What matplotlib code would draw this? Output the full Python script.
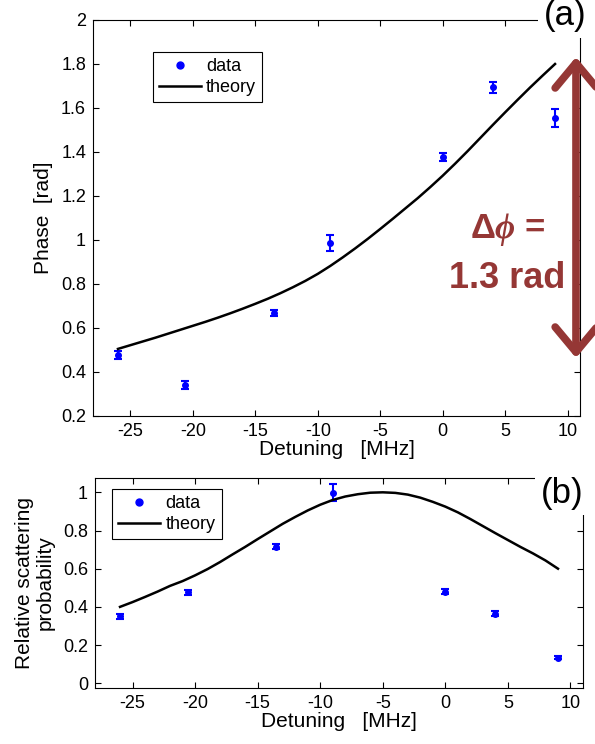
import matplotlib

matplotlib.use("Agg")
import matplotlib.pyplot as plt
from matplotlib.lines import Line2D
from matplotlib.patches import FancyArrowPatch

plt.rcParams["font.family"] = ["Liberation Sans", "DejaVu Sans"]
plt.rcParams["axes.unicode_minus"] = False
plt.rcParams["mathtext.fontset"] = "custom"
plt.rcParams["mathtext.it"] = "Liberation Serif:bold:italic"
plt.rcParams["mathtext.rm"] = "Liberation Sans:bold"

# measured points (detuning in MHz)
det = [-26, -20.6, -13.5, -9, 0, 4, 9]
phase = [0.477, 0.341, 0.668, 0.986, 1.377, 1.695, 1.555]
phase_err = [0.018, 0.017, 0.015, 0.035, 0.018, 0.025, 0.04]
scat = [0.35, 0.476, 0.716, 0.998, 0.48, 0.363, 0.133]
scat_err = [0.013, 0.014, 0.014, 0.045, 0.013, 0.013, 0.008]

# theory curves, 1 MHz steps
det_th = list(range(-26, 10))
phase_th = [0.505, 0.522, 0.539, 0.556, 0.574, 0.592, 0.610, 0.628, 0.647, 0.667,
            0.688, 0.710, 0.733, 0.758, 0.785, 0.814, 0.846, 0.882, 0.921, 0.962,
            1.005, 1.050, 1.096, 1.143, 1.190, 1.240, 1.292, 1.347, 1.404, 1.463,
            1.522, 1.580, 1.637, 1.693, 1.747, 1.800]
scat_th = [0.40, 0.425, 0.452, 0.48, 0.51, 0.535, 0.565, 0.598, 0.635, 0.675,
           0.714, 0.755, 0.795, 0.835, 0.871, 0.905, 0.935, 0.96, 0.978, 0.99,
           0.998, 1.0, 0.997, 0.988, 0.972, 0.95, 0.925, 0.895, 0.86, 0.823,
           0.786, 0.75, 0.714, 0.68, 0.643, 0.60]

phase_ticks = [0.2, 0.4, 0.6, 0.8, 1.0, 1.2, 1.4, 1.6, 1.8, 2.0]
phase_labels = ["0.2", "0.4", "0.6", "0.8", "1", "1.2", "1.4", "1.6", "1.8", "2"]
scat_ticks = [0, 0.2, 0.4, 0.6, 0.8, 1.0]
scat_labels = ["0", "0.2", "0.4", "0.6", "0.8", "1"]
x_ticks = [-25, -20, -15, -10, -5, 0, 5, 10]

red = "#953735"
blue = "#0000ff"

fig = plt.figure(figsize=(5.95, 7.44), dpi=100)
ax1 = fig.add_axes([93 / 595, 1 - 416 / 744, 487 / 595, 396 / 744])
ax2 = fig.add_axes([95 / 595, 1 - 688 / 744, 488 / 595, 210 / 744])


def style(ax):
    ax.tick_params(direction="in", top=True, right=True, labelsize=13, length=4,
                   width=0.8, pad=5)
    for s in ax.spines.values():
        s.set_linewidth(0.8)
    ax.set_xlim(-28, 11)
    ax.set_xticks(x_ticks)
    ax.set_xticklabels([str(t) for t in x_ticks])


def legend(ax, anchor):
    handles = [Line2D([], [], marker="o", ls="none", color=blue, ms=5),
               Line2D([], [], color="black", lw=1.8)]
    leg = ax.legend(handles, ["data", "theory"], loc="upper left", bbox_to_anchor=anchor,
                    borderaxespad=0, fancybox=False, edgecolor="black", fontsize=13,
                    handlelength=2.3, handletextpad=0.3, borderpad=0.35,
                    labelspacing=0.2, framealpha=1)
    leg.get_frame().set_linewidth(0.8)


ax1.errorbar(det, phase, yerr=phase_err, fmt="o", color=blue, ms=4, capsize=3,
             elinewidth=1.5, capthick=1.5)
ax1.plot(det_th, phase_th, color="black", lw=1.8)
style(ax1)
ax1.set_ylim(0.2, 2.0)
ax1.set_yticks(phase_ticks)
ax1.set_yticklabels(phase_labels)
ax1.set_xlabel("Detuning   [MHz]", fontsize=15, labelpad=0)
ax1.set_ylabel("Phase  [rad]", fontsize=15, labelpad=6)
legend(ax1, (0.123, 0.919))

ax2.errorbar(det, scat, yerr=scat_err, fmt="o", color=blue, ms=4, capsize=3,
             elinewidth=1.5, capthick=1.5)
ax2.plot(det_th, scat_th, color="black", lw=1.8)
style(ax2)
ax2.set_ylim(-0.025, 1.075)
ax2.set_yticks(scat_ticks)
ax2.set_yticklabels(scat_labels)
ax2.set_xlabel("Detuning   [MHz]", fontsize=15, labelpad=0)
ax2.set_ylabel("Relative scattering\nprobability", fontsize=15, labelpad=6,
               linespacing=1.1)
legend(ax2, (0.035, 0.948))

# panel letters sit over the top spine
fig.text(565 / 595, 1 - 16 / 744, "(a)", fontsize=25, ha="center", va="center",
         bbox=dict(facecolor="white", edgecolor="none", pad=4), zorder=10)
fig.text(562 / 595, 1 - 493 / 744, "(b)", fontsize=25, ha="center", va="center",
         bbox=dict(facecolor="white", edgecolor="none", pad=4), zorder=10)

# phase span arrow
fig.patches.append(FancyArrowPatch(
    (576 / 595, 1 - 57 / 744), (576 / 595, 1 - 358 / 744), transform=fig.transFigure,
    arrowstyle="<->,head_length=0.9,head_width=0.75", color=red, lw=5.5,
    mutation_scale=20, shrinkA=0, shrinkB=0))
fig.text(508 / 595, 1 - 229 / 744, "Δ$\\phi$ =", color=red, fontsize=25,
         fontweight="bold", ha="center", va="center")
fig.text(507 / 595, 1 - 278 / 744, "1.3 rad", color=red, fontsize=26,
         fontweight="bold", ha="center", va="center")

fig.savefig("out.png", dpi=100)
